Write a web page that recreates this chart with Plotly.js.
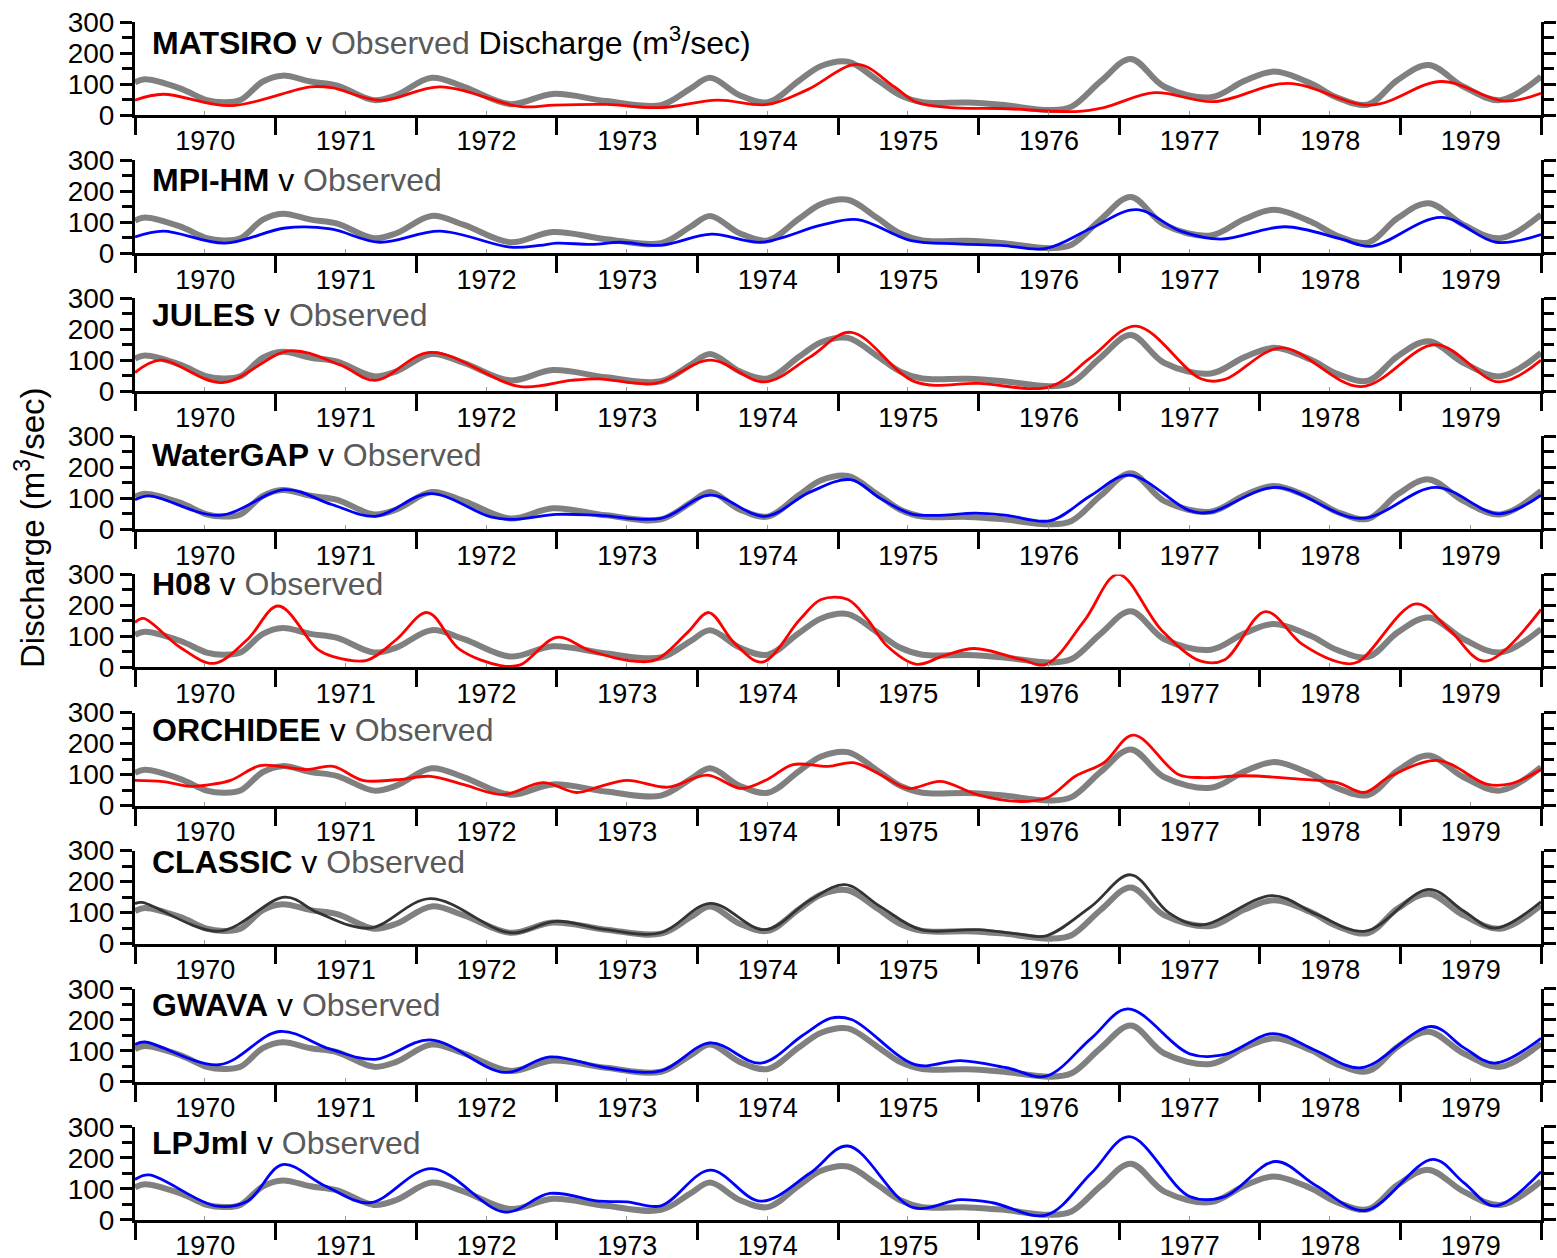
<!DOCTYPE html>
<html>
<head>
<meta charset="utf-8">
<script src="https://cdn.plot.ly/plotly-3.0.1.min.js"></script>
<style>
  html, body { margin: 0; padding: 0; background: #ffffff; }
  #chart { width: 1557px; height: 1258px; }
</style>
</head>
<body>
<div id="chart"></div>
<script>
// Monthly river discharge (m3/sec), 1970-1979: observed record and nine model simulations.
// Times are decimal years; values in m3/sec.

const obsT = [1970.00,1970.07,1970.32,1970.51,1970.63,1970.75,1970.91,1971.05,1971.25,1971.44,1971.70,1971.86,1972.11,1972.34,1972.67,1972.97,1973.35,1973.74,1973.95,1974.09,1974.30,1974.50,1974.72,1974.88,1975.07,1975.28,1975.44,1975.60,1975.92,1976.16,1976.51,1976.66,1976.87,1977.08,1977.32,1977.65,1977.89,1978.10,1978.36,1978.55,1978.77,1978.98,1979.20,1979.45,1979.71,1980.00];
const obsQ = [105,115,86,48,41,48,108,127,108,95,48,64,120,91,35,68,45,32,85,120,64,41,110,158,172,113,64,41,40,33,16,27,110,181,91,57,110,140,102,56,34,113,161,91,48,124];

const matsiroT = [1970.00,1970.20,1970.68,1971.25,1971.40,1971.75,1972.17,1972.74,1972.98,1973.35,1973.74,1974.14,1974.50,1974.78,1975.14,1975.40,1975.56,1975.80,1976.16,1976.69,1976.89,1977.25,1977.67,1978.20,1978.79,1979.29,1979.74,1980.00];
const matsiroQ = [48,67,30,91,88,47,91,27,32,34,24,48,34,81,163,91,41,24,21,11,24,72,43,102,32,108,45,70];

const mpiT = [1970.00,1970.20,1970.64,1971.07,1971.39,1971.74,1972.17,1972.67,1972.88,1973.00,1973.25,1973.45,1973.74,1974.10,1974.45,1974.88,1975.14,1975.52,1975.85,1976.16,1976.48,1976.80,1977.12,1977.44,1977.72,1978.18,1978.58,1978.79,1979.29,1979.68,1980.00];
const mpiQ = [52,71,32,81,78,35,71,19,25,32,28,35,25,61,35,90,108,40,30,25,15,80,140,70,45,85,45,22,115,35,60];

const julesT = [1970.00,1970.18,1970.62,1971.10,1971.46,1971.71,1972.10,1972.74,1973.10,1973.30,1973.70,1974.09,1974.48,1974.80,1975.09,1975.55,1976.00,1976.51,1976.80,1977.12,1977.58,1977.75,1978.15,1978.72,1979.25,1979.70,1980.00];
const julesQ = [60,100,28,130,85,35,125,15,35,40,25,100,30,110,190,30,25,15,110,210,40,38,140,15,150,30,100];

const watergapT = [1970.00,1970.10,1970.60,1971.07,1971.40,1971.71,1972.10,1972.53,1972.70,1973.00,1973.30,1973.74,1974.09,1974.48,1974.80,1975.09,1975.30,1975.52,1975.70,1975.98,1976.20,1976.51,1976.80,1977.07,1977.50,1977.65,1978.11,1978.72,1979.25,1979.70,1980.00];
const watergapQ = [95,108,45,128,80,42,115,40,32,48,45,35,110,42,120,160,100,50,45,52,45,28,110,175,60,55,135,35,135,50,110];

const h08T = [1970.00,1970.06,1970.32,1970.56,1970.80,1971.02,1971.30,1971.41,1971.65,1971.86,1972.08,1972.31,1972.60,1972.74,1973.00,1973.24,1973.55,1973.71,1973.93,1974.08,1974.26,1974.46,1974.73,1974.88,1975.07,1975.21,1975.35,1975.56,1975.75,1975.97,1976.30,1976.48,1976.75,1976.99,1977.30,1977.58,1977.75,1978.04,1978.30,1978.58,1978.70,1979.11,1979.35,1979.60,1980.00];
const h08Q = [145,158,65,13,90,198,58,35,23,90,177,58,6,8,97,53,20,26,113,177,80,17,155,219,219,155,69,10,37,61,26,10,150,300,120,20,25,180,75,15,18,205,120,20,187];

const orchideeT = [1970.00,1970.20,1970.39,1970.53,1970.68,1970.89,1971.03,1971.22,1971.41,1971.62,1971.86,1972.10,1972.34,1972.62,1972.90,1973.14,1973.31,1973.50,1973.79,1974.07,1974.31,1974.50,1974.68,1974.93,1975.11,1975.30,1975.50,1975.73,1975.99,1976.28,1976.49,1976.69,1976.89,1977.10,1977.42,1977.60,1977.90,1978.31,1978.55,1978.74,1978.93,1979.27,1979.62,1979.79,1980.00];
const orchideeQ = [81,77,62,67,81,129,126,116,126,81,83,94,67,35,74,42,62,81,59,98,55,85,132,126,138,100,55,78,35,13,26,95,138,227,100,90,96,84,74,42,95,145,68,71,116];

const classicT = [1970.00,1970.05,1970.60,1971.07,1971.30,1971.67,1972.10,1972.67,1972.99,1973.35,1973.74,1974.09,1974.48,1974.80,1975.05,1975.30,1975.59,1976.00,1976.30,1976.48,1976.80,1977.08,1977.35,1977.58,1978.09,1978.40,1978.75,1979.20,1979.45,1979.67,1980.00];
const classicQ = [129,133,40,150,100,50,145,35,72,45,35,130,45,140,190,120,45,45,30,25,120,222,100,60,155,95,40,175,105,50,135];

const gwavaT = [1970.00,1970.07,1970.60,1971.03,1971.39,1971.71,1972.10,1972.63,1972.95,1973.35,1973.74,1974.09,1974.45,1974.75,1974.95,1975.10,1975.55,1975.87,1976.20,1976.48,1976.80,1977.06,1977.50,1977.75,1978.09,1978.40,1978.72,1979.22,1979.45,1979.67,1980.00];
const gwavaQ = [120,128,55,162,105,72,135,30,80,45,35,125,60,150,205,200,55,68,45,18,140,235,90,88,155,100,45,178,110,60,140];

const lpjmlT = [1970.00,1970.10,1970.57,1970.80,1971.05,1971.35,1971.67,1972.11,1972.63,1972.95,1973.30,1973.50,1973.74,1974.09,1974.45,1974.80,1975.07,1975.53,1975.87,1976.10,1976.48,1976.80,1977.07,1977.50,1977.75,1978.11,1978.40,1978.75,1979.23,1979.45,1979.67,1980.00];
const lpjmlQ = [130,145,45,60,178,110,55,165,25,85,60,58,45,160,60,150,238,40,65,55,15,150,268,75,75,188,110,30,195,120,45,155];

const modelNames = ['MATSIRO','MPI-HM','JULES','WaterGAP','H08','ORCHIDEE','CLASSIC','GWAVA','LPJml'];
const yTickVals = [0,100,200,300];
const yMinorVals = [50,150,250];

// ---- drawing ----
const RED = '#ff0000', BLUE = '#0000ff', DARK = '#333333', OBS = '#808080', OBS_TEXT = '#5a5a5a';
const models = [
  {t: matsiroT,  q: matsiroQ,  color: RED},
  {t: mpiT,      q: mpiQ,      color: BLUE},
  {t: julesT,    q: julesQ,    color: RED},
  {t: watergapT, q: watergapQ, color: BLUE},
  {t: h08T,      q: h08Q,      color: RED},
  {t: orchideeT, q: orchideeQ, color: RED},
  {t: classicT,  q: classicQ,  color: DARK},
  {t: gwavaT,    q: gwavaQ,    color: BLUE},
  {t: lpjmlT,    q: lpjmlQ,    color: BLUE}
];

// decimal year -> Plotly date string
function toDate(t) {
  const y = Math.floor(t + 1e-9);
  const a = Date.UTC(y, 0, 1), b = Date.UTC(y + 1, 0, 1);
  const d = new Date(a + (t - y) * (b - a));
  return d.toISOString().slice(0, 19).replace('T', ' ');
}

const W = 1557, H = 1258, ML = 135, MR = 16;
const plotW = W - ML - MR;
const panelBase = 115, panelStep = 138.1, panelSpan = 93;   // pixel geometry of each strip
const titleCenters = [41, 180, 315, 455, 584, 730, 862, 1005, 1143];

const FONT = '"Liberation Sans", Arial, Helvetica, sans-serif';
const traces = [];
const layout = {
  width: W, height: H,
  margin: {l: ML, r: MR, t: 0, b: 0, pad: 0},
  paper_bgcolor: '#ffffff', plot_bgcolor: '#ffffff',
  showlegend: false,
  font: {family: FONT, color: '#000000', size: 26},
  annotations: []
};

models.forEach((m, k) => {
  const sfx = k === 0 ? '' : String(k + 1);
  const xa = 'x' + sfx, ya = 'y' + sfx;
  const bottom = panelBase + panelStep * k;
  const top = bottom - panelSpan;

  traces.push({
    x: obsT.map(toDate), y: obsQ, xaxis: xa, yaxis: ya,
    type: 'scatter', mode: 'lines',
    line: {color: OBS, width: 6, shape: 'spline', smoothing: 1},
    hoverinfo: 'skip'
  });
  traces.push({
    x: m.t.map(toDate), y: m.q, xaxis: xa, yaxis: ya,
    type: 'scatter', mode: 'lines',
    line: {color: m.color, width: 2.8, shape: 'spline', smoothing: 1},
    hoverinfo: 'skip'
  });

  layout['xaxis' + sfx] = {
    type: 'date', domain: [0, 1], anchor: ya,
    range: ['1970-01-01', '1980-01-01'],
    tick0: '1970-01-01', dtick: 'M12', tickformat: '%Y', ticklabelmode: 'period',
    ticks: 'outside', ticklen: 17, tickwidth: 3, tickcolor: '#000000',
    ticklabelstandoff: -17,
    showline: true, linewidth: 3, linecolor: '#000000',
    showgrid: false, zeroline: false,
    tickfont: {size: 27, family: FONT, color: '#000000'},
    minor: {tick0: '1970-07-01', dtick: 'M12', ticks: 'inside', ticklen: 4, tickwidth: 1, tickcolor: '#9a9a9a', showgrid: false}
  };
  layout['yaxis' + sfx] = {
    domain: [1 - bottom / H, 1 - top / H], anchor: xa,
    range: [0, 300], tickmode: 'array', tickvals: yTickVals,
    ticks: 'outside', ticklen: 12, tickwidth: 3, tickcolor: '#000000',
    showline: true, linewidth: 3, linecolor: '#000000', mirror: 'ticks',
    showgrid: false, zeroline: false,
    tickfont: {size: 28, family: FONT, color: '#000000'},
    minor: {tickmode: 'array', tickvals: yMinorVals, ticks: 'outside', ticklen: 10, tickwidth: 3, tickcolor: '#000000', showgrid: false}
  };

  let text = '<b>' + modelNames[k] + '</b> v <span style="color:' + OBS_TEXT + '">Observed</span>';
  if (k === 0) text += ' Discharge (m<sup>3</sup>/sec)';
  layout.annotations.push({
    xref: 'paper', yref: 'paper',
    x: (150 - ML) / plotW, y: 1 - titleCenters[k] / H,
    xanchor: 'left', yanchor: 'middle',
    text: text, showarrow: false,
    font: {size: 32, family: FONT, color: '#000000'}
  });
});

layout.annotations.push({
  xref: 'paper', yref: 'paper',
  x: (30 - ML) / plotW, y: 1 - 527 / H,
  xanchor: 'center', yanchor: 'middle', textangle: -90,
  text: 'Discharge (m<sup>3</sup>/sec)', showarrow: false,
  font: {size: 33, family: FONT, color: '#000000'}
});

Plotly.newPlot('chart', traces, layout, {displayModeBar: false, staticPlot: true});
</script>
</body>
</html>
